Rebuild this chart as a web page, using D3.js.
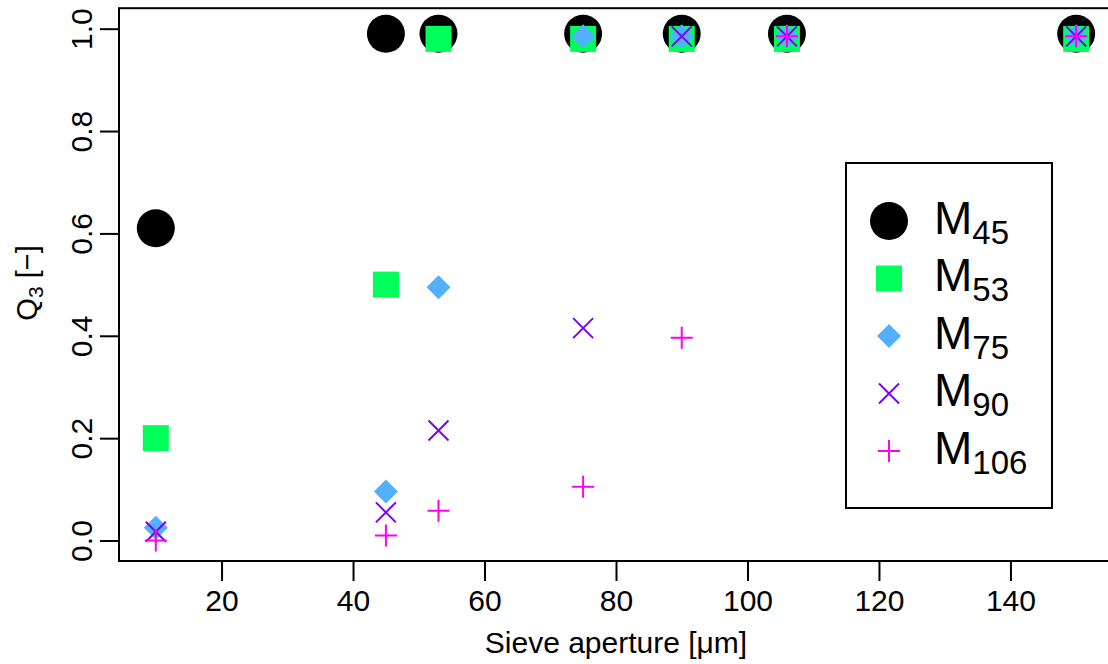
<!DOCTYPE html>
<html>
<head>
<meta charset="utf-8">
<script src="https://cdn.jsdelivr.net/npm/d3@7"></script>
<style>
  body { margin: 0; background: #fff; }
  svg { display: block; font-family: "Liberation Sans", Arial, sans-serif; }
</style>
</head>
<body>
<svg id="chart" width="1108" height="664"></svg>
<script>
// sieve apertures (um) and cumulative fractions Q3 for each sample
const sieves = [10, 45, 53, 75, 90, 106, 150];
const m45 = [0.61, 0.99, 0.99, 0.99, 0.99, 0.99, 0.99];
const m53 = [0.20, 0.50, 0.98, 0.98, 0.98, 0.98, 0.98];
const m75 = [0.025, 0.096, 0.495, 0.985, 0.985, 0.985, 0.985];
const m90 = [0.017, 0.055, 0.215, 0.415, 0.985, 0.985, 0.985];
const m106 = [0.0, 0.01, 0.058, 0.105, 0.396, 0.985, 0.985];
const seriesNames = ["45", "53", "75", "90", "106"];
const xTicks = [20, 40, 60, 80, 100, 120, 140];
const yTicks = [0, 0.2, 0.4, 0.6, 0.8, 1.0];

const series = [
  { name: seriesNames[0], values: m45, shape: "circle", color: "#000000" },
  { name: seriesNames[1], values: m53, shape: "square", color: "#00FF5A" },
  { name: seriesNames[2], values: m75, shape: "diamond", color: "#52B0FF" },
  { name: seriesNames[3], values: m90, shape: "cross", color: "#7A00FF" },
  { name: seriesNames[4], values: m106, shape: "plus", color: "#FF00EE" }
];

const svg = d3.select("#chart");

// R style 4% axis extension
const x = d3.scaleLinear().domain([4.4, 155.6]).range([119, 1113]);
const y = d3.scaleLinear().domain([-0.04, 1.04]).range([561, 8.2]);

const drawSymbol = (g, shape, color) => {
  if (shape === "circle") {
    g.append("circle").attr("r", 19).attr("fill", color);
  } else if (shape === "square") {
    g.append("rect").attr("x", -13).attr("y", -13)
      .attr("width", 26).attr("height", 26).attr("fill", color);
  } else if (shape === "diamond") {
    g.append("path").attr("d", "M0,-12L12,0L0,12L-12,0Z").attr("fill", color);
  } else if (shape === "cross") {
    g.append("path").attr("d", "M-10,-10L10,10M-10,10L10,-10")
      .attr("stroke", color).attr("stroke-width", 2).attr("fill", "none");
  } else {
    g.append("path").attr("d", "M-11,0L11,0M0,-11L0,11")
      .attr("stroke", color).attr("stroke-width", 2).attr("fill", "none");
  }
};

// points
series.forEach(s => {
  svg.append("g")
    .selectAll("g")
    .data(s.values)
    .enter()
    .append("g")
    .attr("transform", (d, i) => "translate(" + x(sieves[i]) + "," + y(d) + ")")
    .each(function () { drawSymbol(d3.select(this), s.shape, s.color); });
});

// box
svg.append("rect")
  .attr("x", x.range()[0]).attr("y", y.range()[1])
  .attr("width", x.range()[1] - x.range()[0])
  .attr("height", y.range()[0] - y.range()[1])
  .attr("fill", "none").attr("stroke", "#000").attr("stroke-width", 2);

// axes
const xAxis = svg.append("g")
  .attr("transform", "translate(0," + y.range()[0] + ")")
  .call(d3.axisBottom(x).tickValues(xTicks).tickSize(20).tickPadding(6).tickFormat(d3.format("d")));
const yAxis = svg.append("g")
  .attr("transform", "translate(" + x.range()[0] + ",0)")
  .call(d3.axisLeft(y).tickValues(yTicks).tickSize(19).tickFormat(d3.format(".1f")));

[xAxis, yAxis].forEach(a => {
  a.select(".domain").remove();
  a.selectAll(".tick line").attr("stroke", "#000").attr("stroke-width", 2);
  a.selectAll(".tick text").attr("fill", "#000").style("font-size", "30px")
    .style("font-family", "'Liberation Sans', Arial, sans-serif");
});
xAxis.selectAll(".tick text").attr("dy", null).attr("y", 50);
yAxis.selectAll(".tick text")
  .attr("x", null).attr("dy", null)
  .attr("text-anchor", "middle")
  .attr("transform", "translate(-27,0) rotate(-90)");

// axis titles
svg.append("text")
  .attr("x", 616).attr("y", 653)
  .attr("text-anchor", "middle")
  .style("font-size", "30px")
  .text("Sieve aperture [μm]");

const yl = svg.append("text")
  .attr("transform", "translate(37,283) rotate(-90)")
  .attr("text-anchor", "middle")
  .style("font-size", "29px");
yl.append("tspan").text("Q");
yl.append("tspan").attr("dy", 6).style("font-size", "21px").text("3");
yl.append("tspan").attr("dy", -6).text(" [−]");

// legend
const legend = svg.append("g");
legend.append("rect")
  .attr("x", 846).attr("y", 163).attr("width", 206).attr("height", 345)
  .attr("fill", "#fff").attr("stroke", "#000").attr("stroke-width", 2);

const rowY = d3.scalePoint().domain(seriesNames).range([221, 451]);
series.forEach(s => {
  const row = legend.append("g").attr("transform", "translate(889," + rowY(s.name) + ")");
  drawSymbol(row, s.shape, s.color);
  const t = row.append("text").attr("x", 45).attr("y", 12.5).style("font-size", "46px");
  t.append("tspan").text("M");
  t.append("tspan").attr("dy", 10).style("font-size", "33px").text(s.name);
});
</script>
</body>
</html>
